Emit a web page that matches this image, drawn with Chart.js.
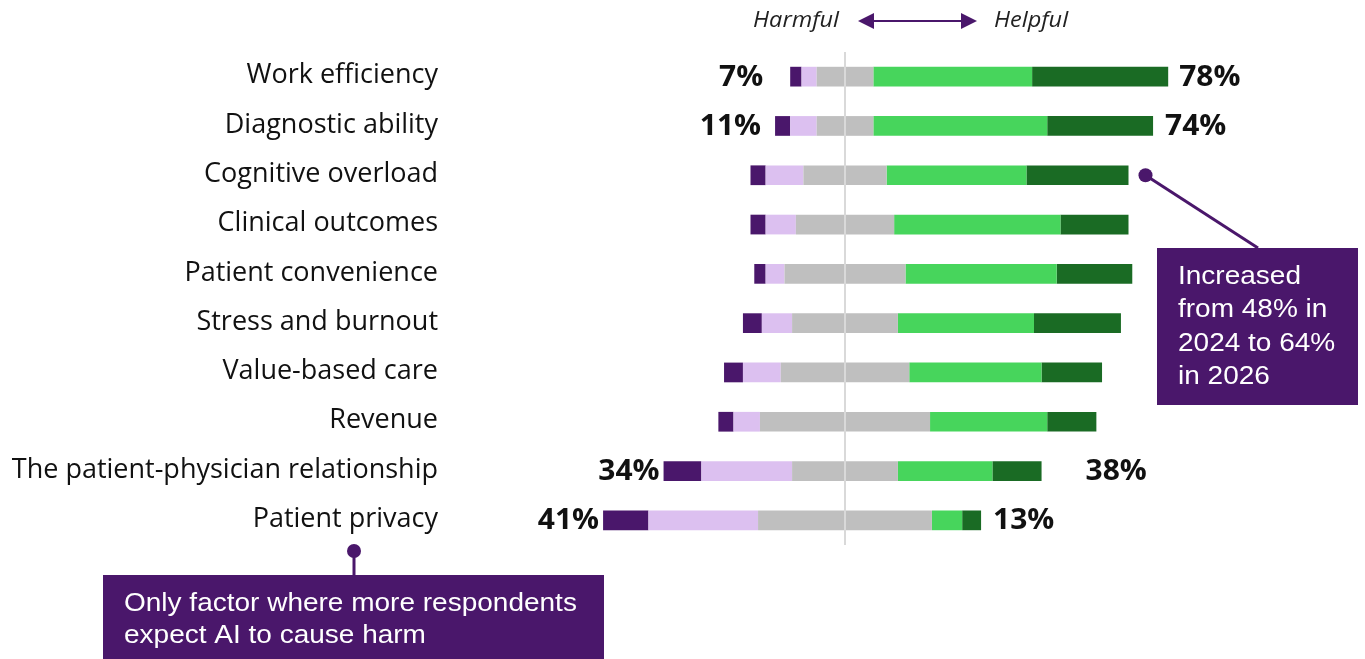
<!DOCTYPE html>
<html>
<head>
<meta charset="utf-8">
<script src="https://cdn.jsdelivr.net/npm/chart.js@4"></script>
<style>
  html, body { margin: 0; padding: 0; background: #fff; }
  #wrap { position: relative; width: 1365px; height: 659px; }
</style>
</head>
<body>
<div id="wrap"><canvas id="chart"></canvas></div>
<script>
// Expected impact of AI, share of respondents (%)
const categories = [
  'Work efficiency', 'Diagnostic ability', 'Cognitive overload', 'Clinical outcomes',
  'Patient convenience', 'Stress and burnout', 'Value-based care', 'Revenue',
  'The patient-physician relationship', 'Patient privacy'
];
const veryHarmful     = [3, 4, 4, 4, 3, 5, 5, 4, 10, 12];
const somewhatHarmful = [4, 7, 10, 8, 5, 8, 10, 7, 24, 29];
const neutral         = [15, 15, 22, 26, 32, 28, 34, 45, 28, 46];
const somewhatHelpful = [42, 46, 37, 44, 40, 36, 35, 31, 25, 8];
const veryHelpful     = [36, 28, 27, 18, 20, 23, 16, 13, 13, 5];

// rows that get harmful / helpful totals printed beside the bar
const totalRows = [0, 1, 8, 9];

const C = {
  darkPurple: '#4a176b',
  lightPurple: '#dcc0f0',
  gray: '#bfbfbf',
  lightGreen: '#47d55c',
  darkGreen: '#1a6b24',
  text: '#111111'
};

const harmTotal = categories.map((_, i) => veryHarmful[i] + somewhatHarmful[i]);
const helpTotal = categories.map((_, i) => somewhatHelpful[i] + veryHelpful[i]);

function ds(label, data, color) {
  return { label, data, backgroundColor: color, borderWidth: 0,
           barPercentage: 0.4, categoryPercentage: 1 };
}

// neutral is split around zero, harmful stacks to the left
const datasets = [
  ds('Neutral', neutral.map(v => -v / 2), C.gray),
  ds('Somewhat harmful', somewhatHarmful.map(v => -v), C.lightPurple),
  ds('Very harmful', veryHarmful.map(v => -v), C.darkPurple),
  ds('Neutral ', neutral.map(v => v / 2), C.gray),
  ds('Somewhat helpful', somewhatHelpful, C.lightGreen),
  ds('Very helpful', veryHelpful, C.darkGreen)
];

function txt(ctx, s, x, y, font, color, align, sx) {
  ctx.save();
  ctx.font = font;
  ctx.fillStyle = color;
  ctx.textAlign = align || 'left';
  ctx.textBaseline = 'middle';
  ctx.translate(x, y);
  ctx.scale(sx || 1, 1);
  ctx.fillText(s, 0, 0);
  ctx.restore();
}

const decorations = {
  id: 'decorations',
  afterDatasetsDraw(chart) {
    const { ctx, chartArea } = chart;
    const xs = chart.scales.x, ys = chart.scales.y;
    const x0 = xs.getPixelForValue(0);

    // zero line
    ctx.save();
    ctx.strokeStyle = '#d9d9d9';
    ctx.lineWidth = 2;
    ctx.beginPath();
    ctx.moveTo(x0, chartArea.top);
    ctx.lineTo(x0, chartArea.bottom);
    ctx.stroke();
    ctx.restore();

    // category labels
    categories.forEach((c, i) => {
      txt(ctx, c, 438, ys.getPixelForValue(i) - 1, '27px "Open Sans"', C.text, 'right');
    });

    // totals
    const leftGap = { 0: 27, 1: 14, 8: 4, 9: 4 };
    const rightGap = { 0: 11, 1: 12, 8: 44, 9: 12 };
    const pctFont = 'bold 28px "Open Sans"';
    totalRows.forEach(i => {
      const y = ys.getPixelForValue(i) + 1;
      const xl = xs.getPixelForValue(-(harmTotal[i] + neutral[i] / 2));
      const xr = xs.getPixelForValue(helpTotal[i] + neutral[i] / 2);
      txt(ctx, harmTotal[i] + '%', xl - leftGap[i], y, pctFont, C.text, 'right', 1.07);
      txt(ctx, helpTotal[i] + '%', xr + rightGap[i], y, pctFont, C.text, 'left', 1.07);
    });

    // header: Harmful <-> Helpful
    txt(ctx, 'Harmful', 839, 21, 'italic 21px "Open Sans"', '#222', 'right', 1.12);
    txt(ctx, 'Helpful', 994, 21, 'italic 21px "Open Sans"', '#222', 'left', 1.12);
    ctx.save();
    ctx.strokeStyle = C.darkPurple;
    ctx.fillStyle = C.darkPurple;
    ctx.lineWidth = 2;
    ctx.beginPath();
    ctx.moveTo(870, 21); ctx.lineTo(964, 21);
    ctx.stroke();
    ctx.beginPath();
    ctx.moveTo(858, 21); ctx.lineTo(874, 13); ctx.lineTo(874, 29); ctx.closePath();
    ctx.moveTo(977, 21); ctx.lineTo(961, 13); ctx.lineTo(961, 29); ctx.closePath();
    ctx.fill();
    ctx.restore();

    // callout for cognitive overload
    const ci = 2;
    const dotX = xs.getPixelForValue(helpTotal[ci] + neutral[ci] / 2) + 17;
    const dotY = ys.getPixelForValue(ci);
    ctx.save();
    ctx.strokeStyle = C.darkPurple;
    ctx.fillStyle = C.darkPurple;
    ctx.lineWidth = 3;
    ctx.beginPath();
    ctx.moveTo(dotX, dotY); ctx.lineTo(1258, 248);
    ctx.stroke();
    ctx.beginPath();
    ctx.arc(dotX, dotY, 7, 0, Math.PI * 2);
    ctx.fill();
    ctx.fillRect(1157, 248, 201, 157);
    ctx.restore();
    ['Increased', 'from 48% in', '2024 to 64%', 'in 2026'].forEach((s, k) => {
      txt(ctx, s, 1178, 277 + k * 33.5, '25px "Liberation Sans"', '#fff', 'left', 1.12);
    });

    // callout for patient privacy
    ctx.save();
    ctx.strokeStyle = C.darkPurple;
    ctx.fillStyle = C.darkPurple;
    ctx.lineWidth = 3;
    ctx.beginPath();
    ctx.moveTo(354, 551); ctx.lineTo(354, 576);
    ctx.stroke();
    ctx.beginPath();
    ctx.arc(354, 551, 7, 0, Math.PI * 2);
    ctx.fill();
    ctx.fillRect(103, 575, 501, 84);
    ctx.restore();
    txt(ctx, 'Only factor where more respondents', 124, 604, '25px "Liberation Sans"', '#fff', 'left', 1.12);
    txt(ctx, 'expect AI to cause harm', 124, 636, '25px "Liberation Sans"', '#fff', 'left', 1.12);
  }
};

new Chart(document.getElementById('chart'), {
  type: 'bar',
  data: { labels: categories, datasets },
  options: {
    indexAxis: 'y',
    responsive: true,
    maintainAspectRatio: false,
    animation: false,
    layout: { padding: { left: 467, right: 142, top: 52, bottom: 114 } },
    plugins: { legend: { display: false }, tooltip: { enabled: false } },
    scales: {
      x: { stacked: true, min: -100, max: 100, display: false },
      y: { stacked: true, display: false }
    }
  },
  plugins: [decorations]
});
</script>
</body>
</html>
